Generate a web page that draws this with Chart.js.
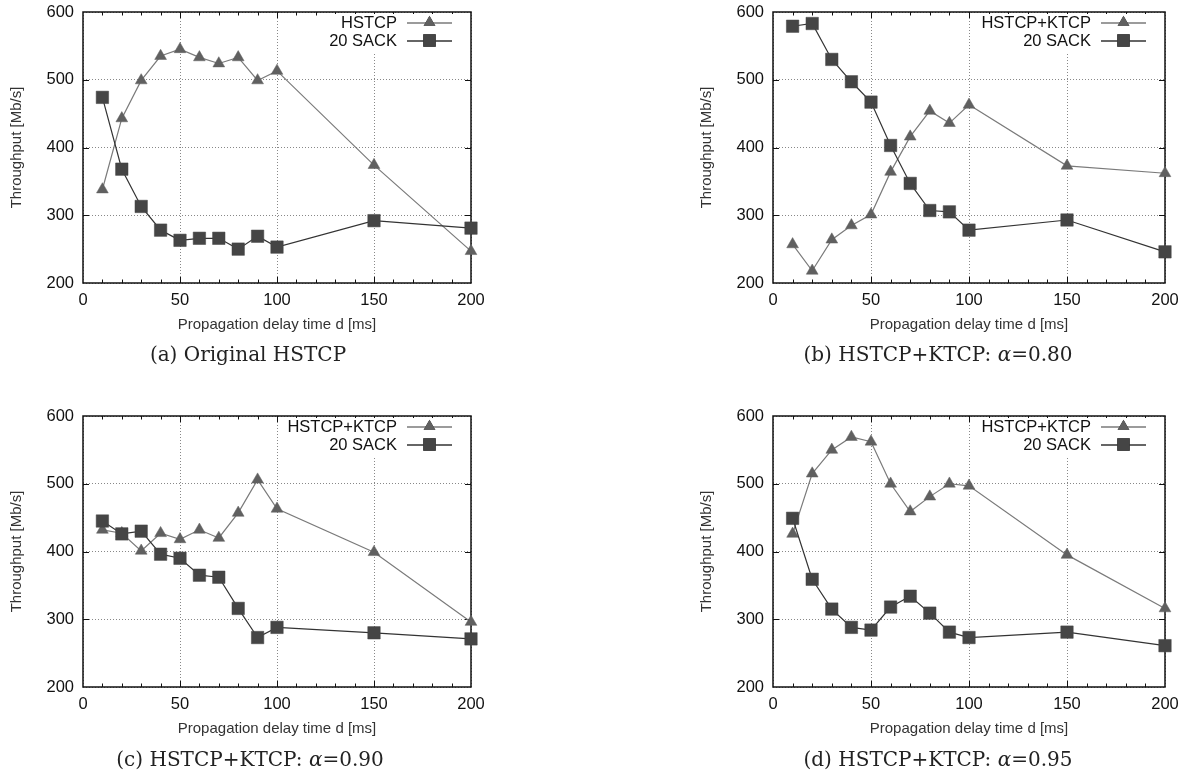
<!DOCTYPE html>
<html>
<head>
<meta charset="utf-8">
<script src="https://cdn.jsdelivr.net/npm/chart.js@4"></script>
<style>
  body { margin: 0; background: #fff; width: 1184px; height: 776px; position: relative; overflow: hidden; }
  canvas { position: absolute; }
  .cap { position: absolute; font-family: "DejaVu Serif", serif; font-size: 20px; color: #222; white-space: nowrap; transform: translateX(-50%); }
</style>
</head>
<body>
<canvas id="pa" width="490" height="345" style="left:0px;top:0px"></canvas>
<canvas id="pb" width="494" height="345" style="left:690px;top:0px"></canvas>
<canvas id="pc" width="490" height="345" style="left:0px;top:404px"></canvas>
<canvas id="pd" width="494" height="345" style="left:690px;top:404px"></canvas>
<div class="cap" style="left:248px;top:342px">(a) Original HSTCP</div>
<div class="cap" style="left:938px;top:342px">(b) HSTCP+KTCP: <i>α</i>=0.80</div>
<div class="cap" style="left:250px;top:747px">(c) HSTCP+KTCP: <i>α</i>=0.90</div>
<div class="cap" style="left:938px;top:747px">(d) HSTCP+KTCP: <i>α</i>=0.95</div>
<script>
// propagation delay d [ms]
const delays = [10, 20, 30, 40, 50, 60, 70, 80, 90, 100, 150, 200]

// (a) original HSTCP
const hstcpA = [338, 443, 499, 535, 545, 533, 524, 533, 499, 513, 374, 247]
const sackA  = [474, 368, 313, 278, 263, 266, 266, 250, 269, 253, 292, 281]
// (b) alpha = 0.80
const ktcpB = [257, 218, 264, 285, 301, 364, 416, 454, 436, 463, 373, 362]
const sackB = [579, 583, 530, 497, 467, 403, 347, 307, 305, 278, 293, 246]
// (c) alpha = 0.90
const ktcpC = [432, 427, 401, 427, 418, 432, 420, 457, 506, 463, 399, 296]
const sackC = [445, 426, 430, 396, 390, 365, 362, 316, 273, 288, 280, 271]
// (d) alpha = 0.95
const ktcpD = [426, 515, 550, 569, 562, 500, 459, 481, 500, 497, 395, 316]
const sackD = [449, 359, 315, 288, 284, 318, 334, 309, 281, 273, 281, 261]

const xTicks = [0, 50, 100, 150, 200]
const yTicks = [200, 300, 400, 500, 600]

const SANS = "'Liberation Sans', Arial, sans-serif"

// border, inward tick marks (gnuplot style) and the boxed legend
const framePlugin = {
  id: 'frame',
  beforeDatasetsDraw(chart) {
    const { ctx, chartArea: a, scales: { x, y } } = chart
    ctx.save()
    ctx.strokeStyle = '#111'
    ctx.lineWidth = 1
    ctx.beginPath()
    for (let v = 10; v < 200; v += 10) {
      const px = Math.round(x.getPixelForValue(v)) + 0.5
      const len = v % 50 === 0 ? 6 : 3.5
      ctx.moveTo(px, a.bottom); ctx.lineTo(px, a.bottom - len)
      ctx.moveTo(px, a.top); ctx.lineTo(px, a.top + len)
    }
    for (const v of yTicks.slice(1, -1)) {
      const py = Math.round(y.getPixelForValue(v)) + 0.5
      ctx.moveTo(a.left, py); ctx.lineTo(a.left + 6, py)
      ctx.moveTo(a.right, py); ctx.lineTo(a.right - 6, py)
    }
    ctx.stroke()
    ctx.lineWidth = 1.5
    ctx.strokeRect(a.left, a.top, a.right - a.left, a.bottom - a.top)
    ctx.restore()
  },
  afterDatasetsDraw(chart) {
    const { ctx, chartArea: a } = chart
    const ds = chart.data.datasets
    ctx.save()
    ctx.font = '16.5px ' + SANS
    const tw = Math.max(...ds.map(d => ctx.measureText(d.label).width))
    const x1 = a.right - 19, x0 = a.right - 64, tx = a.right - 74
    ctx.fillStyle = '#fff'
    ctx.fillRect(tx - tw - 3, a.top + 2, a.right - 1 - (tx - tw - 3), 38)
    ds.forEach((d, i) => {
      const ly = a.top + 10.5 + i * 18
      ctx.fillStyle = '#111'
      ctx.textAlign = 'right'
      ctx.textBaseline = 'middle'
      ctx.fillText(d.label, tx, ly + 1)
      ctx.strokeStyle = d.borderColor
      ctx.lineWidth = 1.3
      ctx.beginPath(); ctx.moveTo(x0, ly + 0.5); ctx.lineTo(x1, ly + 0.5); ctx.stroke()
      Chart.helpers.drawPoint(ctx, {
        pointStyle: d.pointStyle, radius: d.pointRadius, borderWidth: 0, rotation: 0
      }, (x0 + x1) / 2, ly)
      ctx.fillStyle = d.pointBackgroundColor
      ctx.fill()
    })
    ctx.restore()
  }
}

// keep tick labels from pushing the plot area in
function noOverflow(s) {
  s.paddingTop = 0
  s.paddingBottom = 0
  s.paddingLeft = 0
  s.paddingRight = 0
}

function makePanel(id, firstLabel, fast, sack) {
  const ctx = document.getElementById(id).getContext('2d')
  return new Chart(ctx, {
    type: 'line',
    data: {
      labels: delays,
      datasets: [{
        label: firstLabel,
        data: delays.map((d, i) => ({ x: d, y: fast[i] })),
        borderColor: '#7a7a7a',
        borderWidth: 1.2,
        pointStyle: 'triangle',
        pointRadius: 6.8,
        pointBackgroundColor: '#606060',
        pointBorderColor: '#606060',
        pointBorderWidth: 0.5,
        clip: false,
        order: 1
      }, {
        label: '20 SACK',
        data: delays.map((d, i) => ({ x: d, y: sack[i] })),
        borderColor: '#333',
        borderWidth: 1.2,
        pointStyle: 'rect',
        pointRadius: 8.8,
        pointBackgroundColor: '#454545',
        pointBorderColor: '#454545',
        pointBorderWidth: 0.5,
        clip: false,
        order: 0
      }]
    },
    options: {
      responsive: false,
      animation: false,
      devicePixelRatio: 1,
      layout: { padding: { left: 0, top: 12, right: 19, bottom: 0 } },
      scales: {
        x: {
          type: 'linear',
          min: 0, max: 200,
          afterBuildTicks: s => { s.ticks = xTicks.map(v => ({ value: v })) },
          afterFit: s => { s.height = 62; noOverflow(s) },
          grid: { color: '#888', lineWidth: 1, drawTicks: false },
          border: { display: false, dash: [1, 2] },
          ticks: { color: '#111', font: { family: SANS, size: 16.5 }, padding: 8 },
          title: {
            display: true, text: 'Propagation delay time d [ms]', color: '#333',
            font: { family: SANS, size: 15 }, padding: { top: 0, bottom: 11 }
          }
        },
        y: {
          min: 200, max: 600,
          afterBuildTicks: s => { s.ticks = yTicks.map(v => ({ value: v })) },
          afterFit: s => { s.width = 83; noOverflow(s) },
          grid: { color: '#888', lineWidth: 1, drawTicks: false },
          border: { display: false, dash: [1, 2] },
          ticks: { color: '#111', font: { family: SANS, size: 16.5 }, padding: 9 },
          title: {
            display: true, text: 'Throughput [Mb/s]', color: '#333',
            font: { family: SANS, size: 15 }, padding: { top: 8, bottom: 0 }
          }
        }
      },
      plugins: { legend: { display: false }, tooltip: { enabled: false } }
    },
    plugins: [framePlugin]
  })
}

makePanel('pa', 'HSTCP', hstcpA, sackA)
makePanel('pb', 'HSTCP+KTCP', ktcpB, sackB)
makePanel('pc', 'HSTCP+KTCP', ktcpC, sackC)
makePanel('pd', 'HSTCP+KTCP', ktcpD, sackD)
</script>
</body>
</html>
